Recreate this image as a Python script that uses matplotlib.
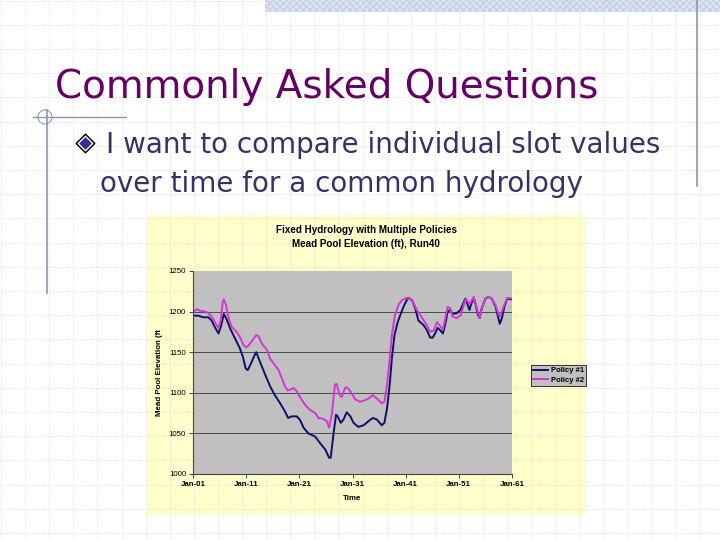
import numpy as np
import matplotlib
matplotlib.use("Agg")
import matplotlib.pyplot as plt
from matplotlib.patches import Rectangle, Arc

# Mead Pool Elevation (ft), Run40
# x = years since Jan-01
p1_years = [0, 1.0, 1.9, 2.9, 3.5, 4.1, 4.8, 5.3, 5.8, 6.3, 7.0, 7.9, 8.8, 9.4,
            9.9, 10.3, 10.9, 11.7, 11.9, 12.6, 13.6, 14.5, 15.4, 16.4, 17.3,
            17.9, 18.6, 19.5, 20.1, 20.8, 21.7, 23.0, 23.9, 24.9, 25.6, 25.9,
            26.4, 26.9, 27.2, 27.8, 28.3, 28.9, 29.6, 30.2, 31.1, 32.1, 33.0,
            33.8, 34.6, 35.5, 36.0, 36.5, 37.0, 37.4, 37.9, 38.5, 39.0, 39.6,
            40.2, 40.5, 41.2, 41.8, 42.4, 43.4, 44.0, 44.6, 45.1, 45.6, 46.0,
            46.5, 47.0, 47.4, 47.9, 48.4, 48.8, 49.6, 50.3, 50.9, 51.2, 51.5,
            52.0, 52.3, 52.8, 53.1, 53.6, 53.9, 54.3, 55.0, 55.6, 56.2, 56.9,
            57.4, 57.7, 58.1, 58.6, 59.1, 60]
p1_elev = [1195, 1195, 1193, 1193, 1189, 1181, 1173, 1183, 1197, 1191, 1179,
           1167, 1155, 1144, 1130, 1128, 1136, 1148, 1150, 1138, 1122, 1108,
           1097, 1087, 1077, 1069, 1071, 1071, 1067, 1057, 1050, 1046, 1038,
           1030, 1020, 1020, 1048, 1073, 1071, 1063, 1067, 1076, 1071, 1063,
           1058, 1060, 1065, 1069, 1067, 1060, 1063, 1081, 1110, 1142, 1171,
           1187, 1196, 1206, 1214, 1217, 1214, 1204, 1189, 1183, 1177, 1168,
           1168, 1174, 1180, 1177, 1173, 1183, 1200, 1202, 1197, 1198, 1202,
           1211, 1216, 1211, 1202, 1209, 1217, 1210, 1196, 1192, 1204, 1216,
           1218, 1216, 1206, 1193, 1185, 1192, 1207, 1216, 1215]

p2_years = [0, 0.7, 1.3, 2.3, 2.9, 3.5, 4.3, 4.8, 5.2, 5.6, 5.8, 6.2, 6.7, 7.3,
            8.2, 8.8, 9.5, 10.0, 10.4, 11.0, 11.9, 12.3, 12.9, 13.9, 14.5,
            15.4, 16.1, 16.7, 17.3, 17.8, 18.3, 18.9, 19.5, 20.1, 21.1, 22.0,
            23.0, 23.6, 24.5, 25.2, 25.6, 26.1, 26.7, 27.0, 27.6, 28.0, 28.6,
            28.9, 29.6, 30.5, 31.4, 32.4, 33.0, 33.8, 34.6, 35.5, 36.0, 36.5,
            37.0, 37.4, 38.0, 38.7, 39.3, 40.2, 40.9, 41.5, 42.1, 43.1, 44.0,
            44.6, 45.3, 45.9, 46.4, 47.0, 47.6, 47.9, 48.4, 48.8, 49.6, 50.4,
            50.9, 51.3, 51.8, 52.1, 52.8, 53.4, 53.9, 54.3, 55.0, 55.6, 56.2,
            56.9, 57.5, 57.8, 58.4, 59.1, 60]
p2_elev = [1199, 1203, 1201, 1200, 1198, 1194, 1185, 1180, 1189, 1212, 1215,
           1208, 1192, 1181, 1175, 1169, 1159, 1156, 1158, 1163, 1171, 1170,
           1161, 1153, 1142, 1134, 1128, 1118, 1108, 1103, 1104, 1106, 1102,
           1095, 1085, 1079, 1075, 1069, 1068, 1065, 1057, 1073, 1110, 1111,
           1097, 1095, 1106, 1107, 1102, 1092, 1089, 1091, 1093, 1097, 1093,
           1087, 1089, 1110, 1142, 1171, 1196, 1209, 1214, 1217, 1216, 1210,
           1202, 1192, 1183, 1175, 1177, 1187, 1183, 1178, 1196, 1206, 1204,
           1194, 1192, 1196, 1208, 1216, 1211, 1210, 1218, 1204, 1192, 1204,
           1216, 1218, 1216, 1208, 1196, 1194, 1206, 1217, 1216]

x_ticks = [0, 10, 20, 30, 40, 50, 60]
x_labels = ["Jan-01", "Jan-11", "Jan-21", "Jan-31", "Jan-41", "Jan-51", "Jan-61"]
y_ticks = [1000, 1050, 1100, 1150, 1200, 1250]

fig = plt.figure(figsize=(7.2, 5.4), dpi=100)
fig.patch.set_facecolor("white")

# slide background, pixel coordinates
bg = fig.add_axes([0, 0, 1, 1])
bg.set_xlim(0, 720)
bg.set_ylim(540, 0)
bg.axis("off")
for g in np.arange(1, 720, 24.1):
    bg.plot([g, g], [0, 540], color="#d8d8d8", lw=0.6, ls=(0, (1, 1.5)))
for g in np.arange(0.5, 540, 24.2):
    bg.plot([0, 720], [g, g], color="#d8d8d8", lw=0.6, ls=(0, (1, 1.5)))
bg.add_patch(Rectangle((265, 0), 455, 12, facecolor="#dde5f2", edgecolor="#c4d0e6",
                       lw=0, hatch="xxxxx"))
deco = "#8a96b8"
bg.plot([697, 697], [0, 186], color=deco, lw=1.2)
bg.plot([33, 126], [117, 117], color=deco, lw=1.0)
bg.plot([47, 47], [110, 293], color=deco, lw=1.2)
bg.add_patch(Arc((45, 117), 14, 14, color=deco, lw=0.8))

bg.text(55, 87, "Commonly Asked Questions", color="#660066", fontsize=28,
        va="center", ha="left", family="DejaVu Sans")
bg.scatter([85], [143], marker="D", s=90, color="black", zorder=5)
bg.scatter([85], [143], marker="D", s=55, color="white", zorder=6)
bg.scatter([85], [143], marker="D", s=30, color="#3a2aa0", zorder=7)
bg.text(106, 145, "I want to compare individual slot values", color="#333366",
        fontsize=20, va="center", ha="left", family="DejaVu Sans")
bg.text(100, 184, "over time for a common hydrology", color="#333366",
        fontsize=20, va="center", ha="left", family="DejaVu Sans")

# chart area
bg.add_patch(Rectangle((147, 215), 438, 300, facecolor="#ffffcc", edgecolor="none"))
bg.text(366, 230, "Fixed Hydrology with Multiple Policies", fontsize=7.1,
        fontweight="bold", ha="center", va="center", family="Liberation Sans")
bg.text(366, 244, "Mead Pool Elevation (ft), Run40", fontsize=7.1,
        fontweight="bold", ha="center", va="center", family="Liberation Sans")

ax = fig.add_axes([193 / 720, 1 - 474 / 540, 319 / 720, 203 / 540])
ax.set_facecolor("#c0c0c0")
ax.plot(p1_years, p1_elev, color="#10106a", lw=1.4, label="Policy #1")
ax.plot(p2_years, p2_elev, color="#d436d4", lw=1.4, label="Policy #2")
ax.set_xlim(0, 60)
ax.set_ylim(1000, 1250)
ax.set_xticks(x_ticks)
ax.set_xticklabels(x_labels, fontsize=5.7, fontweight="bold", family="Liberation Sans")
ax.set_yticks(y_ticks)
ax.set_yticklabels([str(v) for v in y_ticks], fontsize=5.7, family="Liberation Sans")
for v in y_ticks[1:-1]:
    ax.axhline(v, color="#4a4a4a", lw=0.7, zorder=0.5)
for s in ["top", "right"]:
    ax.spines[s].set_visible(False)
for s in ["left", "bottom"]:
    ax.spines[s].set_color("#444444")
    ax.spines[s].set_linewidth(0.8)
ax.tick_params(length=3, width=0.7, color="#444444", pad=2)
ax.set_xlabel("Time", fontsize=5.7, fontweight="bold", family="Liberation Sans",
              labelpad=5)
ax.set_ylabel("Mead Pool Elevation (ft", fontsize=5.7, fontweight="bold",
              family="Liberation Sans", labelpad=4)

leg = fig.legend(loc="upper left", bbox_to_anchor=(527 / 720, 1 - 361 / 540),
                 frameon=True, fancybox=False, handlelength=2.0,
                 borderpad=0.3, labelspacing=0.3, handletextpad=0.3,
                 prop={"weight": "bold", "family": "Liberation Sans", "size": 5.5})
leg.get_frame().set_facecolor("#c0c0c0")
leg.get_frame().set_edgecolor("#333333")
leg.get_frame().set_linewidth(0.7)
leg.get_frame().set_alpha(1)

fig.savefig("out.png", dpi=100)
